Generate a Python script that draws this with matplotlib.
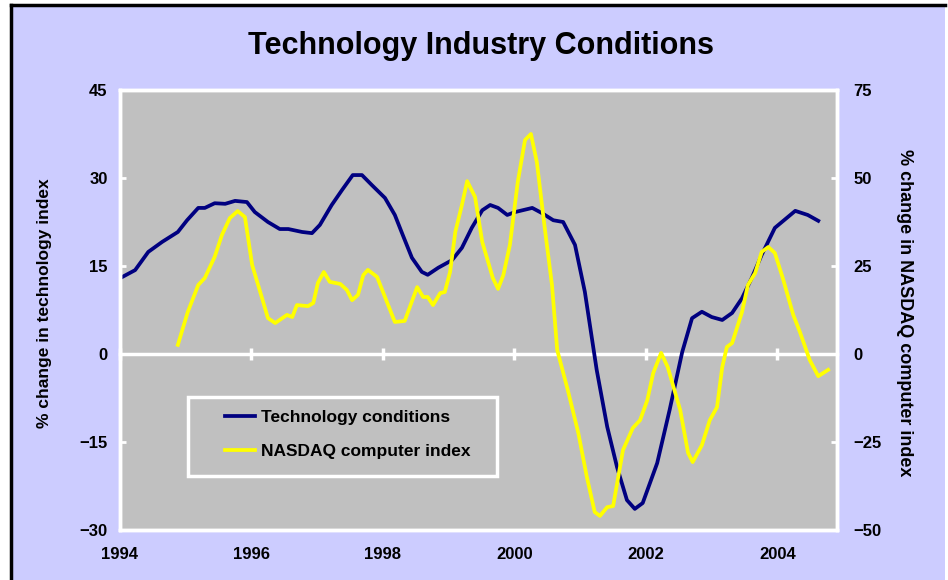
import matplotlib.pyplot as plt
from matplotlib.patches import Rectangle
from matplotlib.lines import Line2D

plt.rcParams['font.family'] = ['Liberation Sans', 'DejaVu Sans']
plt.rcParams['font.weight'] = 'bold'

# Technology conditions (% change, left axis)
tech_t = [1994.03, 1994.23, 1994.43, 1994.64, 1994.88, 1995.02, 1995.19, 1995.29,
          1995.44, 1995.60, 1995.75, 1995.93, 1996.05, 1996.25, 1996.43, 1996.56,
          1996.77, 1996.92, 1997.04, 1997.22, 1997.38, 1997.54, 1997.68, 1997.83,
          1998.03, 1998.18, 1998.30, 1998.44, 1998.59, 1998.68, 1998.84, 1999.05,
          1999.20, 1999.35, 1999.51, 1999.63, 1999.75, 1999.89, 2000.01, 2000.27,
          2000.42, 2000.59, 2000.74, 2000.92, 2001.07, 2001.25, 2001.41, 2001.56,
          2001.71, 2001.83, 2001.95, 2002.17, 2002.36, 2002.55, 2002.70, 2002.85,
          2003.00, 2003.16, 2003.31, 2003.46, 2003.61, 2003.76, 2003.96, 2004.27,
          2004.46, 2004.62]
tech_v = [13.1, 14.3, 17.4, 19.1, 20.8, 22.8, 24.9, 24.9,
          25.7, 25.6, 26.1, 25.9, 24.2, 22.5, 21.3, 21.3,
          20.8, 20.6, 22.0, 25.4, 28.0, 30.5, 30.5, 28.8,
          26.6, 23.7, 20.3, 16.4, 14.0, 13.5, 14.7, 16.0,
          18.1, 21.5, 24.5, 25.4, 24.9, 23.7, 24.2, 24.9,
          24.0, 22.8, 22.5, 18.6, 10.6, -2.7, -12.4, -19.3,
          -24.9, -26.4, -25.4, -18.6, -9.5, 0.3, 6.1, 7.2,
          6.3, 5.8, 7.0, 9.5, 13.0, 16.9, 21.5, 24.4,
          23.7, 22.7]

# NASDAQ computer index (% change, right axis)
nasdaq_t = [1994.88, 1995.03, 1995.19, 1995.29, 1995.44, 1995.55, 1995.67, 1995.79,
            1995.90, 1996.01, 1996.16, 1996.25, 1996.36, 1996.54, 1996.62, 1996.69,
            1996.86, 1996.94, 1997.01, 1997.10, 1997.19, 1997.35, 1997.45, 1997.53,
            1997.62, 1997.70, 1997.77, 1997.91, 1998.03, 1998.18, 1998.33, 1998.52,
            1998.61, 1998.68, 1998.76, 1998.87, 1998.94, 1999.02, 1999.10, 1999.20,
            1999.28, 1999.40, 1999.51, 1999.60, 1999.67, 1999.75, 1999.83, 1999.93,
            2000.05, 2000.16, 2000.25, 2000.34, 2000.46, 2000.57, 2000.65, 2000.81,
            2000.97, 2001.10, 2001.22, 2001.30, 2001.41, 2001.50, 2001.65, 2001.80,
            2001.91, 2002.02, 2002.11, 2002.23, 2002.33, 2002.52, 2002.64, 2002.71,
            2002.85, 2002.97, 2003.08, 2003.16, 2003.23, 2003.31, 2003.46, 2003.55,
            2003.66, 2003.76, 2003.86, 2003.96, 2004.08, 2004.24, 2004.34, 2004.49,
            2004.62, 2004.77]
nasdaq_v = [2.6, 11.9, 19.6, 21.6, 27.6, 33.8, 38.6, 40.6,
            38.9, 25.3, 15.9, 10.2, 8.8, 11.1, 10.5, 13.9,
            13.6, 14.5, 20.2, 23.3, 20.5, 19.9, 18.2, 15.3,
            16.8, 22.4, 23.9, 21.9, 16.2, 9.1, 9.4, 19.0,
            16.2, 16.2, 13.9, 17.3, 17.6, 23.3, 34.7, 42.3,
            49.1, 44.6, 31.8, 26.1, 21.6, 18.5, 22.4, 31.0,
            48.9, 60.8, 62.5, 54.5, 35.8, 19.6, 1.1, -10.2,
            -22.4, -34.9, -44.9, -46.0, -43.5, -43.2, -27.3, -21.0,
            -18.8, -13.1, -5.4, 0.3, -3.7, -15.9, -28.1, -30.7,
            -25.9, -18.8, -15.1, -3.7, 2.0, 3.1, 11.9, 19.6,
            23.0, 29.0, 30.4, 28.7, 21.6, 11.1, 6.3, -1.7,
            -6.3, -4.5]

x_ticks = [1994, 1996, 1998, 2000, 2002, 2004]
left_ticks = [-30, -15, 0, 15, 30, 45]
right_ticks = [-50, -25, 0, 25, 50, 75]

lavender = '#CCCCFF'
grey = '#C0C0C0'
navy = '#000080'
yellow = '#FFFF00'

W, H = 948, 580
fig = plt.figure(figsize=(W / 100, H / 100), dpi=100, facecolor='white')
fig.patches.append(Rectangle((11 / W, 0), (945 - 11) / W, 1 - 5 / H,
                             transform=fig.transFigure, facecolor=lavender,
                             edgecolor='none', zorder=-10))
fig.lines.append(Line2D([11 / W, 11 / W], [0, 1 - 5 / H], transform=fig.transFigure,
                        color='black', lw=2.5))
fig.lines.append(Line2D([11 / W, 945 / W], [1 - 5 / H, 1 - 5 / H],
                        transform=fig.transFigure, color='black', lw=2.5))

ax = fig.add_axes([120 / W, 1 - 530 / H, (837 - 120) / W, (530 - 90) / H])
ax.set_facecolor(grey)
ax.plot(tech_t, tech_v, color=navy, lw=2.7, label='Technology conditions',
        solid_joinstyle='round')
ax.set_xlim(1994, 2004.905)
ax.set_ylim(-30, 45)
ax.set_xticks(x_ticks)
ax.set_yticks(left_ticks)
ax.tick_params(axis='x', length=0, pad=12, labelsize=12)
ax.tick_params(axis='y', direction='in', length=4, width=2, color='white',
               pad=9, labelsize=12)
for s in ax.spines.values():
    s.set_color('white')
    s.set_linewidth(2.5)

# zero line with crossing ticks
zero = ax.secondary_xaxis(0, transform=ax.transData)
zero.set_xticks(x_ticks)
zero.tick_params(direction='inout', length=9, width=2.5, color='white',
                 labelbottom=False, labeltop=False)
zero.spines['bottom'].set_color('white')
zero.spines['bottom'].set_linewidth(2.5)
zero.spines['top'].set_visible(False)

ax2 = ax.twinx()
ax2.plot(nasdaq_t, nasdaq_v, color=yellow, lw=2.7, label='NASDAQ computer index',
         solid_joinstyle='round')
ax2.set_ylim(-50, 75)
ax2.set_yticks(right_ticks)
ax2.tick_params(axis='y', direction='in', length=4, width=2, color='white',
                pad=12, labelsize=12)
for s in ax2.spines.values():
    s.set_color('white')
    s.set_linewidth(2.5)

# legend box
ax2.add_patch(Rectangle(((188 - 120) / 717, (530 - 476) / 440), 309 / 717, 79 / 440,
                        transform=ax2.transAxes, facecolor=grey, edgecolor='white',
                        lw=2.5, zorder=5))
h1, l1 = ax.get_legend_handles_labels()
h2, l2 = ax2.get_legend_handles_labels()
leg = ax2.legend(h1 + h2, l1 + l2, loc='upper left',
                 bbox_to_anchor=((216 - 120) / 717, (530 - 401) / 440),
                 frameon=False, borderpad=0, handlelength=1.75, handletextpad=0.35,
                 labelspacing=1.1, prop={'size': 12.5, 'weight': 'bold'})
leg.set_zorder(6)

fig.text(481 / W, 1 - 46 / H, 'Technology Industry Conditions', ha='center',
         va='center', fontsize=22, fontweight='bold')
fig.text(45 / W, 1 - 303 / H, '% change in technology index', rotation=90,
         ha='center', va='center', fontsize=12.5, fontweight='bold')
fig.text(905 / W, 1 - 313 / H, '% change in NASDAQ computer index', rotation=270,
         ha='center', va='center', fontsize=13, fontweight='bold')

fig.savefig('out.png', dpi=100, facecolor=fig.get_facecolor())
